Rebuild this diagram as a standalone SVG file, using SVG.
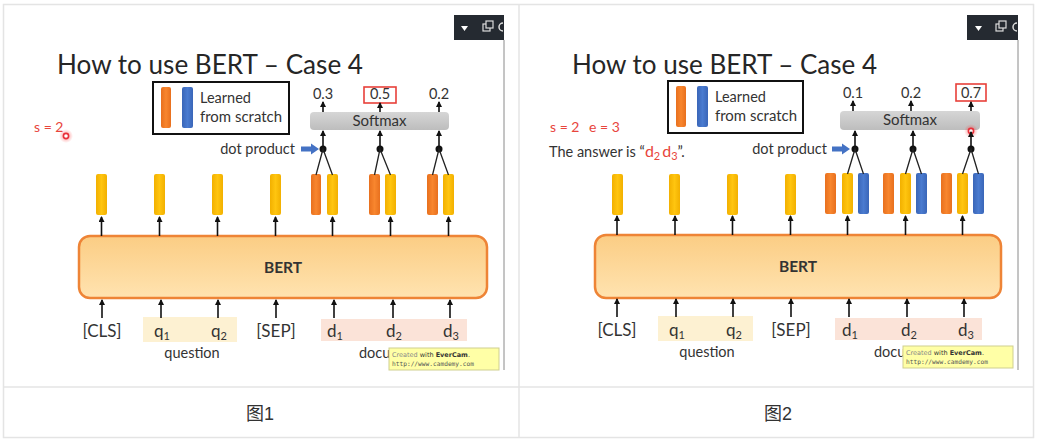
<svg xmlns="http://www.w3.org/2000/svg" width="1038" height="444" viewBox="0 0 1038 444">
<defs>
<style>
.tx{font-family:Lato,"Open Sans","Liberation Sans",sans-serif;fill:#333}
.ttl{font-family:Lato,"Open Sans","Liberation Sans",sans-serif;font-weight:400;font-size:27px;fill:#262626}
.lg{font-size:14.5px}
.num{font-size:14.5px}
.sm{font-size:15px;text-anchor:middle}
.tok{font-size:17px;text-anchor:middle}
.red{fill:#E8453C}
.ar{stroke:#111;stroke-width:1.6;fill:none;marker-end:url(#ah)}
.ln{stroke:#222;stroke-width:1.3;fill:none}
.yb{fill:url(#gy)}
.ob{fill:url(#go)}
.bb{fill:url(#gb)}
.cap{font-family:"Liberation Sans","Noto Sans CJK SC",sans-serif;font-size:18px;fill:#333;text-anchor:middle}
.wm1{font-family:"DejaVu Sans",sans-serif;font-size:6.5px;fill:#333}
.wm2{font-family:"DejaVu Sans Mono",monospace;font-size:6.2px;fill:#555}
</style>
<marker id="ah" viewBox="0 0 6 6" refX="5" refY="3" markerWidth="6" markerHeight="6" markerUnits="userSpaceOnUse" orient="auto"><path d="M0,0 L6,3 L0,6 z" fill="#111"/></marker>
<linearGradient id="gy" x1="0" y1="0" x2="1" y2="0"><stop offset="0" stop-color="#F2B000"/><stop offset="0.5" stop-color="#FFC50F"/><stop offset="1" stop-color="#F2B000"/></linearGradient>
<linearGradient id="go" x1="0" y1="0" x2="1" y2="0"><stop offset="0" stop-color="#E8701E"/><stop offset="0.5" stop-color="#F8862E"/><stop offset="1" stop-color="#E8701E"/></linearGradient>
<linearGradient id="gb" x1="0" y1="0" x2="1" y2="0"><stop offset="0" stop-color="#3A66B8"/><stop offset="0.5" stop-color="#4A7BD0"/><stop offset="1" stop-color="#3A66B8"/></linearGradient>
<linearGradient id="gbert" x1="0" y1="0" x2="0" y2="1"><stop offset="0" stop-color="#FBCD84"/><stop offset="1" stop-color="#FFE3B0"/></linearGradient>
<linearGradient id="gsm" x1="0" y1="0" x2="0" y2="1"><stop offset="0" stop-color="#D6D6D6"/><stop offset="1" stop-color="#BDBDBD"/></linearGradient>
<radialGradient id="glow"><stop offset="0" stop-color="#FF3030" stop-opacity="0.55"/><stop offset="1" stop-color="#FF3030" stop-opacity="0"/></radialGradient>
</defs>

<rect width="1038" height="444" fill="#fff"/>

<!-- table frame -->
<g id="table" fill="none" stroke="#E4E4E4" stroke-width="1.5">
<rect x="3.5" y="4.5" width="1030" height="433"/>
<line x1="519" y1="4.5" x2="519" y2="437.5"/>
<line x1="3.5" y1="387" x2="1033.5" y2="387"/>
</g>

<!-- ============ LEFT PANEL ============ -->
<g id="left-chrome">
<line x1="504" y1="40" x2="504" y2="370" stroke="#8A8A8A" stroke-width="1"/>
<rect x="454" y="15" width="50" height="25" fill="#252A31"/>
<path d="M461,26 L468,26 L464.5,31 z" fill="#fff"/>
<rect x="483" y="24" width="7" height="7" fill="none" stroke="#ddd" stroke-width="1.2"/>
<rect x="486" y="21" width="7" height="7" fill="#252A31" stroke="#ddd" stroke-width="1.2"/>
<path d="M503,23 a4,4 0 0 0 0,8" fill="none" stroke="#ddd" stroke-width="1.5"/>
</g>

<g id="left-title"><text class="ttl" x="57" y="74" textLength="306" lengthAdjust="spacingAndGlyphs">How to use BERT – Case 4</text></g>

<g id="left-legend">
<rect x="153" y="82" width="136" height="52" fill="#fff" stroke="#111" stroke-width="2"/>
<rect x="161" y="87" width="10" height="41" rx="2" class="ob"/>
<rect x="182" y="87" width="11" height="41" rx="2" class="bb"/>
<text class="tx lg" x="200" y="103">Learned</text>
<text class="tx lg" x="200" y="122" textLength="82" lengthAdjust="spacingAndGlyphs">from scratch</text>
</g>

<g id="left-s">
<text class="tx red" x="34" y="132" font-size="14">s = 2</text>
<circle cx="66" cy="136" r="7" fill="url(#glow)"/>
<circle cx="66" cy="136" r="2.6" fill="#fff" stroke="#E8303A" stroke-width="1.6"/>
</g>

<g id="left-softmax">
<rect x="310" y="112" width="139" height="18" rx="4" fill="url(#gsm)"/>
<text class="tx sm" x="379.5" y="126">Softmax</text>
<text class="tx num" x="323" y="99" text-anchor="middle">0.3</text>
<rect x="364" y="87" width="32" height="16" fill="none" stroke="#E8403A" stroke-width="1.6"/>
<text class="tx num" x="380" y="99" text-anchor="middle">0.5</text>
<text class="tx num" x="439" y="99" text-anchor="middle">0.2</text>
</g>

<g id="left-dot">
<text class="tx lg" x="295" y="154" text-anchor="end">dot product</text>
<path d="M301,146.5 L311,146.5 L311,143.5 L319,149 L311,154.5 L311,151.5 L301,151.5 z" fill="#4472C4"/>
<circle cx="323" cy="149" r="3.5" fill="#111"/>
<circle cx="380" cy="149" r="3.5" fill="#111"/>
<circle cx="439" cy="149" r="3.5" fill="#111"/>
</g>

<g id="left-bars">
<rect x="96" y="174" width="11" height="41" rx="2" class="yb"/>
<rect x="154" y="174" width="11" height="41" rx="2" class="yb"/>
<rect x="212" y="174" width="11" height="41" rx="2" class="yb"/>
<rect x="270" y="174" width="11" height="41" rx="2" class="yb"/>
<rect x="311" y="174" width="10" height="41" rx="2" class="ob"/>
<rect x="327" y="174" width="11" height="41" rx="2" class="yb"/>
<rect x="369" y="174" width="11" height="41" rx="2" class="ob"/>
<rect x="385" y="174" width="11" height="41" rx="2" class="yb"/>
<rect x="427" y="174" width="11" height="41" rx="2" class="ob"/>
<rect x="443" y="174" width="11" height="41" rx="2" class="yb"/>
</g>

<g id="left-bert">
<rect x="79" y="236" width="408" height="62" rx="11" fill="url(#gbert)" stroke="#EE8436" stroke-width="2.5"/>
<text class="tx" x="283" y="273" font-size="15.5" font-weight="700" text-anchor="middle">BERT</text>
</g>

<g id="left-inputs">
<rect x="143" y="317" width="94" height="25" fill="#FDF1D2"/>
<rect x="321" y="319" width="146" height="22" fill="#FBE3D8"/>
<text class="tx tok" x="102" y="337">[CLS]</text>
<text class="tx tok" x="162" y="337">q<tspan font-size="11" dy="3">1</tspan></text>
<text class="tx tok" x="219" y="337">q<tspan font-size="11" dy="3">2</tspan></text>
<text class="tx tok" x="276" y="337">[SEP]</text>
<text class="tx tok" x="335" y="337">d<tspan font-size="11" dy="3">1</tspan></text>
<text class="tx tok" x="394" y="337">d<tspan font-size="11" dy="3">2</tspan></text>
<text class="tx tok" x="451" y="337">d<tspan font-size="11" dy="3">3</tspan></text>
<text class="tx lg" x="192" y="358" text-anchor="middle">question</text>
<text class="tx lg" x="359" y="358">docu</text>
</g>

<g id="left-watermark">
<rect x="389" y="348" width="110" height="22" fill="#FFFFA6" stroke="#CFCF90" stroke-width="1"/>
<text class="wm1" x="392" y="357"><tspan fill="#888">Created</tspan> with <tspan font-weight="bold">EverCam</tspan>.</text>
<text class="wm2" x="392" y="366">http://www.camdemy.com</text>
</g>

<g id="left-connectors">
<line class="ar" x1="101.5" y1="236" x2="101.5" y2="217"/>
<line class="ar" x1="159.5" y1="236" x2="159.5" y2="217"/>
<line class="ar" x1="217.5" y1="236" x2="217.5" y2="217"/>
<line class="ar" x1="275.5" y1="236" x2="275.5" y2="217"/>
<line class="ar" x1="332.5" y1="236" x2="332.5" y2="217"/>
<line class="ar" x1="390.5" y1="236" x2="390.5" y2="217"/>
<line class="ar" x1="448.5" y1="236" x2="448.5" y2="217"/>
<line class="ar" x1="102" y1="318" x2="102" y2="300"/>
<line class="ar" x1="161" y1="318" x2="161" y2="300"/>
<line class="ar" x1="218" y1="318" x2="218" y2="300"/>
<line class="ar" x1="276" y1="318" x2="276" y2="300"/>
<line class="ar" x1="334" y1="318" x2="334" y2="300"/>
<line class="ar" x1="393" y1="318" x2="393" y2="300"/>
<line class="ar" x1="450" y1="318" x2="450" y2="300"/>
<polyline class="ln" points="316,175 323,149 332.5,175"/>
<polyline class="ln" points="374.5,175 380,149 390.5,175"/>
<polyline class="ln" points="432.5,175 439,149 448.5,175"/>
<line class="ar" x1="323" y1="146" x2="323" y2="131"/>
<line class="ar" x1="380" y1="146" x2="380" y2="131"/>
<line class="ar" x1="439" y1="146" x2="439" y2="131"/>
<line class="ar" x1="323" y1="112" x2="323" y2="102"/>
<line class="ar" x1="380" y1="112" x2="380" y2="103"/>
<line class="ar" x1="439" y1="112" x2="439" y2="102"/>
</g>

<!-- ============ RIGHT PANEL ============ -->
<g id="right-chrome">
<line x1="1018" y1="40" x2="1018" y2="370" stroke="#8A8A8A" stroke-width="1"/>
<rect x="967" y="15" width="51" height="25" fill="#252A31"/>
<path d="M975,26 L982,26 L978.5,31 z" fill="#fff"/>
<rect x="996" y="24" width="7" height="7" fill="none" stroke="#ddd" stroke-width="1.2"/>
<rect x="999" y="21" width="7" height="7" fill="#252A31" stroke="#ddd" stroke-width="1.2"/>
<path d="M1017,23 a4,4 0 0 0 0,8" fill="none" stroke="#ddd" stroke-width="1.5"/>
</g>

<g id="right-title"><text class="ttl" x="572" y="74" textLength="305" lengthAdjust="spacingAndGlyphs">How to use BERT – Case 4</text></g>

<g id="right-legend">
<rect x="668" y="81" width="135" height="52" fill="#fff" stroke="#111" stroke-width="2"/>
<rect x="676" y="86" width="10" height="41" rx="2" class="ob"/>
<rect x="697" y="86" width="11" height="41" rx="2" class="bb"/>
<text class="tx lg" x="715" y="102">Learned</text>
<text class="tx lg" x="715" y="121" textLength="82" lengthAdjust="spacingAndGlyphs">from scratch</text>
</g>

<g id="right-se">
<text class="tx red" x="550" y="132" font-size="14">s = 2</text>
<text class="tx red" x="589" y="132" font-size="14">e = 3</text>
<text class="tx lg" x="549" y="157">The answer is “<tspan class="red" font-size="16">d</tspan><tspan class="red" font-size="11" dy="3">2</tspan><tspan class="red" font-size="16" dy="-3" dx="2">d</tspan><tspan class="red" font-size="11" dy="3">3</tspan><tspan dy="-3">”.</tspan></text>
</g>

<g id="right-softmax">
<rect x="840" y="111" width="140" height="19" rx="4" fill="url(#gsm)"/>
<text class="tx sm" x="910" y="125">Softmax</text>
<text class="tx num" x="853" y="98" text-anchor="middle">0.1</text>
<text class="tx num" x="911" y="98" text-anchor="middle">0.2</text>
<rect x="956" y="84" width="30" height="17" fill="none" stroke="#E8403A" stroke-width="1.6"/>
<text class="tx num" x="971" y="98" text-anchor="middle">0.7</text>
<circle cx="971" cy="131" r="7" fill="url(#glow)"/>
<circle cx="971" cy="131" r="2.6" fill="#fff" stroke="#E8303A" stroke-width="1.6"/>
</g>

<g id="right-dot">
<text class="tx lg" x="827" y="154" text-anchor="end">dot product</text>
<path d="M832,146.5 L842,146.5 L842,143.5 L850,149 L842,154.5 L842,151.5 L832,151.5 z" fill="#4472C4"/>
<circle cx="855" cy="149" r="3.5" fill="#111"/>
<circle cx="913" cy="149" r="3.5" fill="#111"/>
<circle cx="971" cy="149" r="3.5" fill="#111"/>
</g>

<g id="right-bars">
<rect x="612" y="174" width="11" height="41" rx="2" class="yb"/>
<rect x="669" y="174" width="11" height="41" rx="2" class="yb"/>
<rect x="727" y="174" width="11" height="41" rx="2" class="yb"/>
<rect x="785" y="174" width="11" height="41" rx="2" class="yb"/>
<rect x="825" y="173" width="11" height="41" rx="2" class="ob"/>
<rect x="842" y="173" width="11" height="41" rx="2" class="yb"/>
<rect x="858" y="173" width="11" height="41" rx="2" class="bb"/>
<rect x="883" y="173" width="11" height="41" rx="2" class="ob"/>
<rect x="900" y="173" width="11" height="41" rx="2" class="yb"/>
<rect x="916" y="173" width="11" height="41" rx="2" class="bb"/>
<rect x="941" y="173" width="11" height="41" rx="2" class="ob"/>
<rect x="957" y="173" width="11" height="41" rx="2" class="yb"/>
<rect x="973" y="173" width="11" height="41" rx="2" class="bb"/>
</g>

<g id="right-bert">
<rect x="595" y="235" width="406" height="63" rx="11" fill="url(#gbert)" stroke="#EE8436" stroke-width="2.5"/>
<text class="tx" x="798" y="272" font-size="15.5" font-weight="700" text-anchor="middle">BERT</text>
</g>

<g id="right-inputs">
<rect x="658" y="316" width="95" height="25" fill="#FDF1D2"/>
<rect x="835" y="318" width="147" height="22" fill="#FBE3D8"/>
<text class="tx tok" x="617" y="336">[CLS]</text>
<text class="tx tok" x="677" y="336">q<tspan font-size="11" dy="3">1</tspan></text>
<text class="tx tok" x="734" y="336">q<tspan font-size="11" dy="3">2</tspan></text>
<text class="tx tok" x="791" y="336">[SEP]</text>
<text class="tx tok" x="850" y="336">d<tspan font-size="11" dy="3">1</tspan></text>
<text class="tx tok" x="909" y="336">d<tspan font-size="11" dy="3">2</tspan></text>
<text class="tx tok" x="966" y="336">d<tspan font-size="11" dy="3">3</tspan></text>
<text class="tx lg" x="707" y="357" text-anchor="middle">question</text>
<text class="tx lg" x="874" y="357">docu</text>
</g>

<g id="right-watermark">
<rect x="903" y="346" width="110" height="22" fill="#FFFFA6" stroke="#CFCF90" stroke-width="1"/>
<text class="wm1" x="906" y="355"><tspan fill="#888">Created</tspan> with <tspan font-weight="bold">EverCam</tspan>.</text>
<text class="wm2" x="906" y="364">http://www.camdemy.com</text>
</g>

<g id="right-connectors">
<line class="ar" x1="617" y1="235" x2="617" y2="216"/>
<line class="ar" x1="675" y1="235" x2="675" y2="216"/>
<line class="ar" x1="732.5" y1="235" x2="732.5" y2="216"/>
<line class="ar" x1="790.5" y1="235" x2="790.5" y2="216"/>
<line class="ar" x1="847.5" y1="235" x2="847.5" y2="216"/>
<line class="ar" x1="905.5" y1="235" x2="905.5" y2="216"/>
<line class="ar" x1="962.5" y1="235" x2="962.5" y2="216"/>
<line class="ar" x1="617" y1="317" x2="617" y2="299"/>
<line class="ar" x1="676" y1="317" x2="676" y2="299"/>
<line class="ar" x1="733" y1="317" x2="733" y2="299"/>
<line class="ar" x1="791" y1="317" x2="791" y2="299"/>
<line class="ar" x1="849" y1="317" x2="849" y2="299"/>
<line class="ar" x1="907" y1="317" x2="907" y2="299"/>
<line class="ar" x1="964" y1="317" x2="964" y2="299"/>
<polyline class="ln" points="847.5,174 855,149 863.5,174"/>
<polyline class="ln" points="905.5,174 913,149 921.5,174"/>
<polyline class="ln" points="962.5,174 971,149 978.5,174"/>
<line class="ar" x1="855" y1="146" x2="855" y2="131"/>
<line class="ar" x1="913" y1="146" x2="913" y2="131"/>
<line class="ar" x1="971" y1="146" x2="971" y2="132"/>
<line class="ar" x1="853" y1="111" x2="853" y2="101"/>
<line class="ar" x1="911" y1="111" x2="911" y2="101"/>
<line class="ar" x1="971" y1="111" x2="971" y2="102"/>
</g>

<!-- captions -->
<g id="captions">
<text class="cap" x="260" y="420">图1</text>
<text class="cap" x="778" y="420">图2</text>
</g>
</svg>
